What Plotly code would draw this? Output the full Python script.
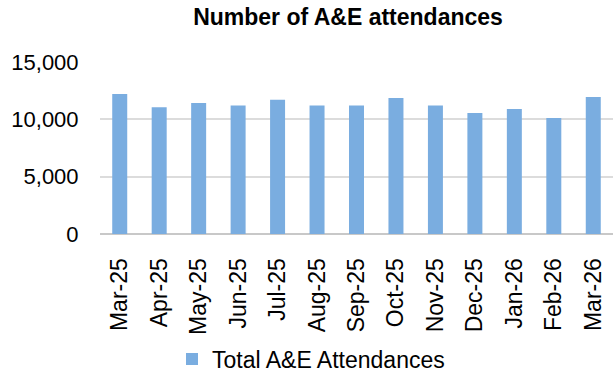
import plotly.graph_objects as go

# Monthly A&E attendances
months = ["Mar-25", "Apr-25", "May-25", "Jun-25", "Jul-25", "Aug-25", "Sep-25",
          "Oct-25", "Nov-25", "Dec-25", "Jan-26", "Feb-26", "Mar-26"]
attendances = [12200, 11050, 11420, 11200, 11700, 11200, 11200,
               11850, 11200, 10550, 10900, 10120, 11950]
series_name = "Total A&E Attendances"
y_ticks = [0, 5000, 10000, 15000]
y_tick_labels = ["0", "5,000", "10,000", "15,000"]

BAR_COLOR = "#7aade0"
GRID_COLOR = "#dcdcdc"
FONT = "Liberation Sans, Arial, sans-serif"

fig = go.Figure(
    go.Bar(
        x=months,
        y=attendances,
        name=series_name,
        marker=dict(color=BAR_COLOR, line=dict(width=0)),
        showlegend=True,
    )
)

fig.update_layout(
    width=613,
    height=374,
    margin=dict(l=100, r=0, t=62, b=140, autoexpand=False),
    paper_bgcolor="white",
    plot_bgcolor="white",
    bargap=0.62,
    font=dict(family=FONT, color="#000000"),
    title=dict(
        text="<b>Number of A&E attendances</b>",
        font=dict(family=FONT, size=23, color="#000000"),
        x=348 / 613,
        xanchor="center",
        y=1 - 17 / 374,
        yanchor="middle",
    ),
    showlegend=True,
    legend=dict(
        orientation="h",
        x=(172 - 100) / 513,
        xanchor="left",
        y=(234 - 359) / 172,
        yanchor="middle",
        font=dict(family=FONT, size=23, color="#000000"),
        bgcolor="rgba(0,0,0,0)",
    ),
)

fig.update_xaxes(
    type="category",
    automargin=False,
    tickangle=-90,
    tickfont=dict(family=FONT, size=23, color="#000000"),
    ticks="outside",
    ticklen=14,
    tickcolor="rgba(0,0,0,0)",
    showgrid=False,
    showline=False,
    zeroline=False,
)

fig.update_yaxes(
    range=[0, 15000],
    automargin=False,
    tickvals=y_ticks,
    ticktext=y_tick_labels,
    tickfont=dict(family=FONT, size=22, color="#000000"),
    ticks="outside",
    ticklen=16,
    tickcolor="rgba(0,0,0,0)",
    showgrid=True,
    gridcolor=GRID_COLOR,
    gridwidth=1.5,
    zeroline=True,
    zerolinecolor="#c8c8c8",
    zerolinewidth=1.5,
    showline=False,
)

fig.write_html("out.html")
